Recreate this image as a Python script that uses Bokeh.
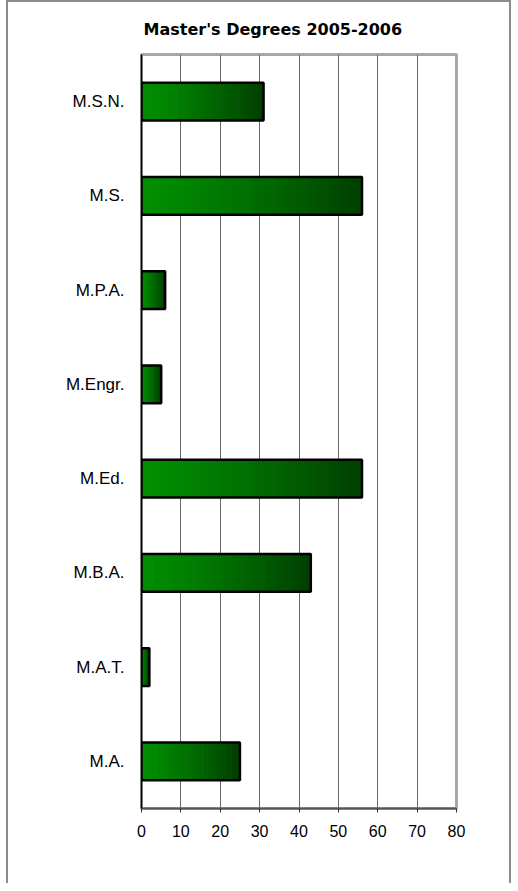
from bokeh.plotting import figure
from bokeh.models import FactorRange, Range1d, FixedTicker
from bokeh.embed import file_html
from bokeh.resources import INLINE

degrees = ["M.S.N.", "M.S.", "M.P.A.", "M.Engr.", "M.Ed.", "M.B.A.", "M.A.T.", "M.A."]
counts = [31, 56, 6, 5, 56, 43, 2, 25]
x_ticks = [0, 10, 20, 30, 40, 50, 60, 70, 80]
title_text = "Master's Degrees 2005-2006"

p = figure(width=505, height=883, output_backend="svg", toolbar_location=None,
           y_range=FactorRange(factors=list(reversed(degrees)), range_padding=0),
           x_range=Range1d(0, 80),
           min_border_left=133, min_border_right=57, min_border_top=51, min_border_bottom=77)

p.title.text = title_text
p.title.align = "left"
p.title.offset = 2
p.title.standoff = 31
p.title.text_font = "DejaVu Sans"
p.title.text_font_style = "bold"
p.title.text_font_size = "16px"
p.title.text_color = "black"

# gradient bars
N = 60
ys, lefts, rights, colors = [], [], [], []
for cat, v in zip(degrees, counts):
    for i in range(N):
        t = (i + 0.5) / N
        g = int(round(142 - 80 * t ** 1.3))
        ys.append(cat)
        lefts.append(v * i / N)
        rights.append(v * (i + 1) / N)
        colors.append("#00%02x00" % g)
p.hbar(y=ys, left=lefts, right=rights, height=0.4, fill_color=colors,
       line_color=colors, line_width=1)
p.hbar(y=degrees, left=0, right=counts, height=0.4, fill_color=None,
       line_color="black", line_width=2.5)

p.xgrid.ticker = FixedTicker(ticks=x_ticks)
p.xgrid.grid_line_color = "#6a6a6a"
p.xgrid.grid_line_width = 1
p.ygrid.grid_line_color = None

p.outline_line_color = "#a8a8a8"
p.outline_line_width = 3

p.xaxis.ticker = FixedTicker(ticks=x_ticks)
p.xaxis.axis_line_color = "#555555"
p.xaxis.axis_line_width = 2
p.xaxis.major_tick_line_color = "#333333"
p.xaxis.major_tick_out = 4
p.xaxis.major_tick_in = 0
p.xaxis.minor_tick_line_color = None
p.xaxis.major_label_text_font = "Liberation Sans"
p.xaxis.major_label_text_font_size = "16px"
p.xaxis.major_label_text_color = "black"
p.xaxis.major_label_standoff = 12

p.yaxis.axis_line_color = "black"
p.yaxis.axis_line_width = 1.5
p.yaxis.major_tick_line_color = None
p.yaxis.minor_tick_line_color = None
p.yaxis.major_label_text_font = "Liberation Sans"
p.yaxis.major_label_text_font_size = "17px"
p.yaxis.major_label_text_color = "black"
p.yaxis.major_label_standoff = 11

p.styles = {"border-left": "2px solid #8c8c8c", "border-right": "2px solid #8c8c8c",
            "border-top": "2px solid #8c8c8c", "box-sizing": "border-box",
            "margin-left": "6px"}

open("out.html", "w").write(file_html(p, INLINE))
